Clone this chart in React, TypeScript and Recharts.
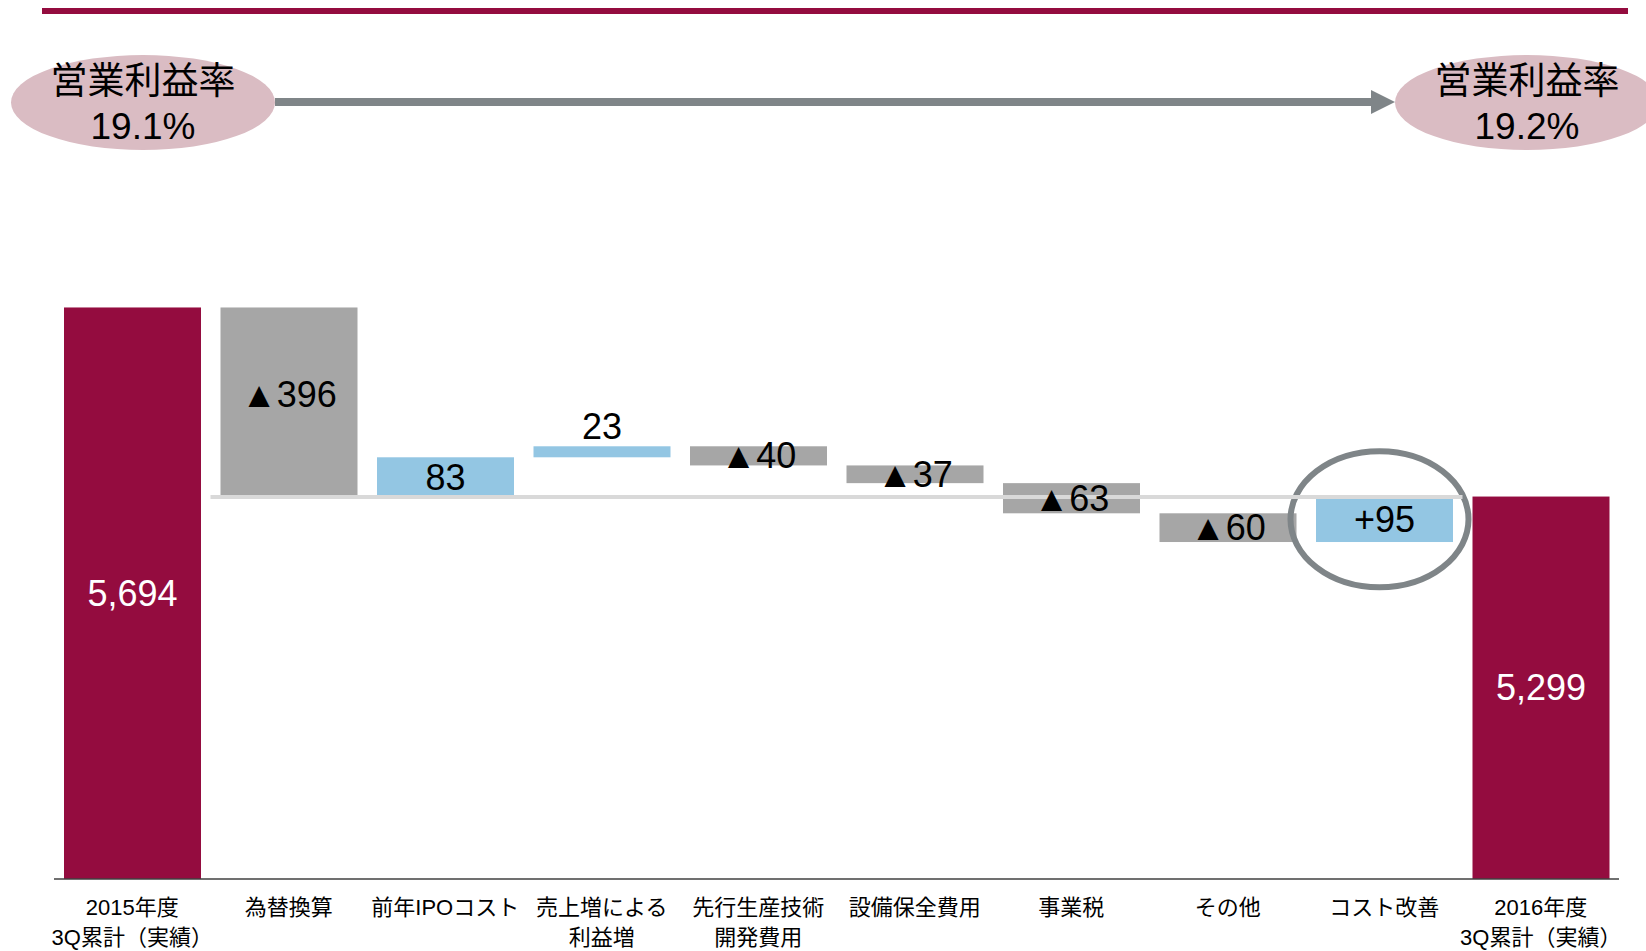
import { BarChart, Bar, XAxis, YAxis, ReferenceLine, LabelList, Cell } from 'recharts';

const categories = [
  '2015年度\n3Q累計（実績）',
  '為替換算',
  '前年IPOコスト',
  '売上増による\n利益増',
  '先行生産技術\n開発費用',
  '設備保全費用',
  '事業税',
  'その他',
  'コスト改善',
  '2016年度\n3Q累計（実績）',
];
const amounts = [5694, -396, 83, 23, -40, -37, -63, -60, 95, 5299];
const kinds = ['total', 'down', 'up', 'up', 'down', 'down', 'down', 'down', 'up', 'total'];
const valueLabels = ['5,694', '▲396', '83', '23', '▲40', '▲37', '▲63', '▲60', '+95', '5,299'];
const circled = ['コスト改善'];
const marginTitle = '営業利益率';
const marginRates = ['19.1%', '19.2%'];

const AXIS_MIN = 4500;
const AXIS_MAX = 6000;

const FONT = "'Liberation Sans', Arial, 'Noto Sans CJK JP', sans-serif";
const COLORS: Record<string, string> = { total: '#940C3F', down: '#A6A6A6', up: '#93C6E3' };

let level = 0;
const data = categories.map((name, i) => {
  let range: [number, number];
  if (kinds[i] === 'total') {
    range = [AXIS_MIN, amounts[i]];
    level = amounts[i];
  } else {
    const next = level + amounts[i];
    range = [Math.min(level, next), Math.max(level, next)];
    level = next;
  }
  return { name, range, kind: kinds[i], label: valueLabels[i], circled: circled.includes(name) };
});

// level after the first step, drawn as the pale bridge line
const bridgeLevel = amounts[0] + amounts[1];

const CategoryTick = ({ x, y, payload }: any) => {
  const lines = String(payload.value).split('\n');
  return (
    <g transform={`translate(${x},${y})`}>
      {lines.map((l, i) => (
        <text key={i} x={0} y={28 + i * 30} textAnchor="middle" fontSize={22} fill="#000" fontFamily={FONT}>
          {l}
        </text>
      ))}
    </g>
  );
};

const BarShape = (props: any) => {
  const { x, y, width, height, fill, payload } = props;
  const top = height < 0 ? y + height : y;
  const h = Math.abs(height);
  return (
    <g>
      <rect x={x} y={top} width={width} height={h} fill={fill} />
      {payload && payload.circled && (
        <ellipse cx={x + width / 2 - 5} cy={top + h / 2} rx={89} ry={68} fill="none" stroke="#7F8588" strokeWidth={6} />
      )}
    </g>
  );
};

const ValueLabel = (props: any) => {
  const { x, y, width, height, value } = props;
  const d = data.find((e) => e.label === value);
  if (!d) return null;
  const top = height < 0 ? y + height : y;
  const h = Math.abs(height);
  const cx = x + width / 2;
  let cy = top + h / 2;
  if (h < 15) cy = top - 20;
  else if (d.kind === 'down' && h > 100) cy -= 8;
  return (
    <text x={cx} y={cy} dy="0.35em" textAnchor="middle" fontSize={36} fontFamily={FONT}
      fill={d.kind === 'total' ? '#fff' : '#000'}>
      {value}
    </text>
  );
};

export default function App() {
  return (
    <div style={{ position: 'absolute', left: 0, top: 0, width: 1646, height: 951, background: '#fff', fontFamily: FONT }}>
      <svg width={1646} height={160} style={{ position: 'absolute', left: 0, top: 0 }}>
        <rect x={42} y={8} width={1586} height={6} fill="#940C3F" />
        <line x1={275} y1={102} x2={1373} y2={102} stroke="#7F8588" strokeWidth={8} />
        <polygon points="1371,90 1395,102 1371,114" fill="#7F8588" />
        <ellipse cx={143} cy={102.5} rx={132} ry={47.5} fill="#DABCC3" />
        <ellipse cx={1527} cy={102.5} rx={132} ry={47.5} fill="#DABCC3" />
        <text x={143} y={81} dy="0.35em" textAnchor="middle" fontSize={37} fontFamily={FONT}>{marginTitle}</text>
        <text x={143} y={126} dy="0.35em" textAnchor="middle" fontSize={37} fontFamily={FONT}>{marginRates[0]}</text>
        <text x={1527} y={81} dy="0.35em" textAnchor="middle" fontSize={37} fontFamily={FONT}>{marginTitle}</text>
        <text x={1527} y={126} dy="0.35em" textAnchor="middle" fontSize={37} fontFamily={FONT}>{marginRates[1]}</text>
      </svg>
      <BarChart width={1646} height={951} data={data} margin={{ top: 161, right: 27, bottom: 12, left: 54 }}>
        <XAxis
          dataKey="name"
          interval={0}
          tickLine={false}
          axisLine={{ stroke: '#404040', strokeWidth: 1.5 }}
          height={60}
          tick={<CategoryTick />}
        />
        <YAxis hide domain={[AXIS_MIN, AXIS_MAX]} />
        <Bar dataKey="range" barSize={137} isAnimationActive={false} shape={<BarShape />}>
          {data.map((d, i) => (
            <Cell key={i} fill={COLORS[d.kind]} />
          ))}
          <LabelList dataKey="label" content={<ValueLabel />} />
        </Bar>
        <ReferenceLine
          segment={[{ x: categories[0], y: bridgeLevel }, { x: categories[8], y: bridgeLevel }]}
          position="end"
          stroke="#D9D9D9"
          strokeWidth={4}
        />
      </BarChart>
    </div>
  );
}
